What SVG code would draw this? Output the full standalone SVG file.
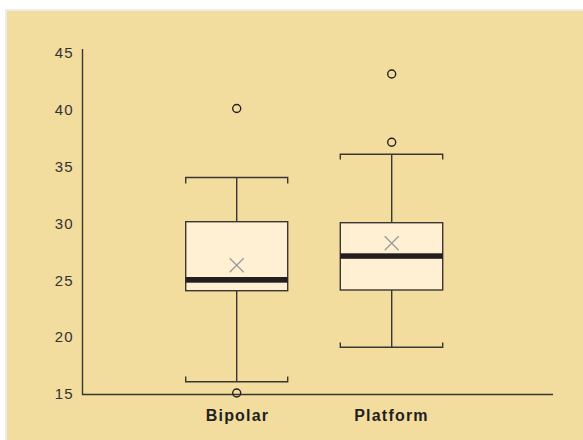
<svg xmlns="http://www.w3.org/2000/svg" width="583" height="440" viewBox="0 0 583 440">
<style>
.tick{font-family:"Liberation Sans",Arial,sans-serif;font-size:15px;fill:#333;text-anchor:end;letter-spacing:1px}
.cat{font-family:"Liberation Sans",Arial,sans-serif;font-size:16px;font-weight:bold;fill:#231F20;text-anchor:middle;letter-spacing:1.2px}
.ln{stroke:#3a3633;stroke-width:1.4;fill:none}
.box{fill:#FFF0D4;stroke:#3a3633;stroke-width:1.4}
.med{fill:#231F20}
.mean{stroke:#9a9a9a;stroke-width:1.3}
.out{fill:none;stroke:#231F20;stroke-width:1.4}
</style>
<rect x="0" y="0" width="583" height="440" fill="#ffffff"/>
<rect x="5" y="9" width="578" height="431" fill="#ececec"/>
<rect x="7" y="11" width="576" height="429" fill="#F2DC9E"/>
<g id="axes">
<path class="ln" d="M82.5 49 V394.5 H553"/>
<text class="tick" x="73.5" y="58.3">45</text>
<text class="tick" x="73.5" y="115.2">40</text>
<text class="tick" x="73.5" y="172">35</text>
<text class="tick" x="73.5" y="228.8">30</text>
<text class="tick" x="73.5" y="285.6">25</text>
<text class="tick" x="73.5" y="342.4">20</text>
<text class="tick" x="73.5" y="399">15</text>
</g>
<g id="connectors">
<path class="ln" d="M236.7 177.5 V221.7 M236.7 290.7 V381.7"/>
<path class="ln" d="M391.7 154.3 V222.7 M391.7 290 V347.3"/>
</g>
<g id="bipolar">
<path class="ln" d="M185.7 183.5 V177.5 H287.7 V183.5"/>
<path class="ln" d="M185.7 376.5 V381.7 H287.7 V376.5"/>
<rect class="box" x="185.7" y="221.7" width="102" height="69"/>
<rect class="med" x="185.7" y="277" width="102" height="5.7"/>
<path class="mean" d="M229.7 258.3 L243.7 272.3 M243.7 258.3 L229.7 272.3"/>
<circle class="out" cx="236.7" cy="108.5" r="4"/>
<circle class="out" cx="236.7" cy="393" r="4"/>
<text class="cat" x="237.5" y="420.7">Bipolar</text>
</g>
<g id="platform">
<path class="ln" d="M340.3 159.5 V154.3 H442.7 V159.5"/>
<path class="ln" d="M340.3 342.5 V347.3 H442.7 V342.5"/>
<rect class="box" x="340.3" y="222.7" width="102.4" height="67.3"/>
<rect class="med" x="340.3" y="253.3" width="102.4" height="5.5"/>
<path class="mean" d="M384.7 236.3 L398.7 250.3 M398.7 236.3 L384.7 250.3"/>
<circle class="out" cx="391.7" cy="74" r="4"/>
<circle class="out" cx="391.7" cy="142.3" r="4"/>
<text class="cat" x="391.5" y="420.7">Platform</text>
</g>
</svg>
